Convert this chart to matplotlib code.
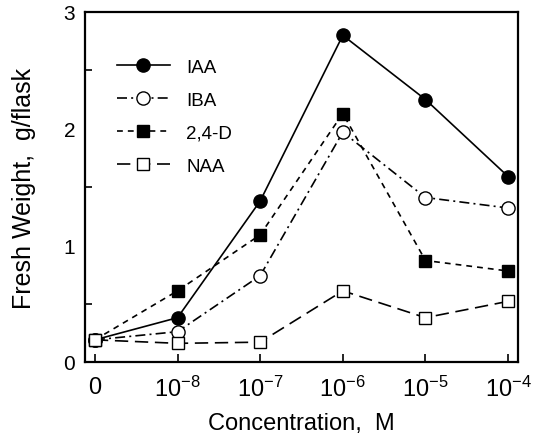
import numpy as np
import matplotlib
matplotlib.use("Agg")
import matplotlib.pyplot as plt
from matplotlib.ticker import MultipleLocator

plt.rcParams['font.family'] = ['Liberation Sans', 'DejaVu Sans']
plt.rcParams['mathtext.fontset'] = 'custom'
plt.rcParams['mathtext.rm'] = 'Liberation Sans'
plt.rcParams['mathtext.it'] = 'Liberation Sans:italic'

# concentrations (categories on the x axis)
concentrations = ['0', r'$\mathregular{10^{-8}}$', r'$\mathregular{10^{-7}}$',
                  r'$\mathregular{10^{-6}}$', r'$\mathregular{10^{-5}}$',
                  r'$\mathregular{10^{-4}}$']

# fresh weight, g/flask
iaa = [0.19, 0.38, 1.38, 2.80, 2.25, 1.59]
iba = [0.19, 0.26, 0.74, 1.97, 1.41, 1.32]
d24 = [0.19, 0.61, 1.09, 2.13, 0.87, 0.78]
naa = [0.19, 0.16, 0.17, 0.61, 0.38, 0.52]

x = np.arange(len(concentrations))

fig = plt.figure(figsize=(5.39, 4.35), dpi=100)
ax = fig.add_axes([85/539, 1 - 363/435, 433/539, 350/435])

ax.plot(x, iaa, color='black', linestyle='-', linewidth=1.2,
        marker='o', markersize=9.5, markerfacecolor='black', label='IAA')
ax.plot(x, iba, color='black', linestyle=(0, (6, 2.5, 1.2, 2.5)), linewidth=1.2,
        marker='o', markersize=9.5, markerfacecolor='white', label='IBA')
ax.plot(x, d24, color='black', linestyle=(0, (3.5, 3)), linewidth=1.2,
        marker='s', markersize=9, markerfacecolor='black', label='2,4-D')
ax.plot(x, naa, color='black', linestyle=(0, (8, 4)), linewidth=1.2,
        marker='s', markersize=9, markerfacecolor='white', label='NAA')

ax.set_xlim(-0.12, 5.12)
ax.set_ylim(0, 3)
ax.set_xticks(x)
ax.set_xticklabels(concentrations)
ax.yaxis.set_major_locator(MultipleLocator(1))
ax.yaxis.set_minor_locator(MultipleLocator(0.5))
ax.tick_params(axis='both', which='both', direction='in',
               width=1.2, top=False, right=False)
ax.tick_params(axis='y', which='major', length=0, pad=7, labelsize=15)
ax.tick_params(axis='y', which='minor', length=5)
ax.tick_params(axis='x', which='major', length=6, pad=10, labelsize=17)

for s in ax.spines.values():
    s.set_linewidth(1.6)

ax.set_xlabel('Concentration,  M', fontsize=17, labelpad=8)
ax.set_ylabel('Fresh Weight,  g/flask', fontsize=18, labelpad=20)

ax.legend(loc='upper left', bbox_to_anchor=(0.035, 0.915), frameon=False,
          fontsize=13.5, handlelength=2.8, labelspacing=0.85, handletextpad=0.9)

fig.savefig('out.png', dpi=100)
